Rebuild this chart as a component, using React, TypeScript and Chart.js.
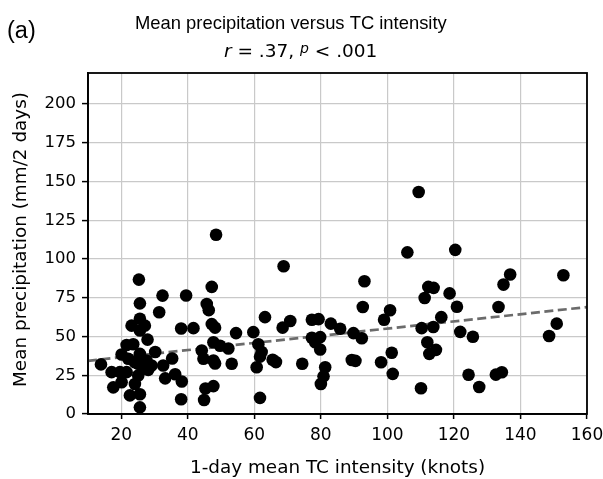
import React, { useEffect, useRef } from "react";
import { Chart, registerables } from "chart.js";

Chart.register(...registerables);

const PANEL_LABEL = "(a)";
const TITLE = "Mean precipitation versus TC intensity";
const X_LABEL = "1-day mean TC intensity (knots)";
const Y_LABEL = "Mean precipitation (mm/2 days)";

const intensity = [
  13.9, 17.1, 17.6, 19.6, 20.1, 20.1, 21.6, 21.6, 22.1, 22.6, 23.1, 23.6, 24.1, 24.1, 25.1, 25.1,
  25.3, 25.6, 25.6, 25.6, 25.6, 25.6, 25.6, 26.1, 27.1, 27.6, 27.9, 28.1, 29.1, 30.2,
  31.4, 32.4, 32.6, 33.2, 35.3, 36.2, 38.0, 38.2, 38.0, 39.5,
  41.7, 44.2, 44.7, 44.9, 45.3, 45.7, 46.3, 47.2, 47.2, 47.7, 47.7, 47.7, 48.2, 48.2, 48.5, 49.7,
  52.2, 53.2, 54.5, 59.7, 60.7, 61.2, 61.7, 62.2, 61.7, 63.2, 65.5, 66.5, 68.5, 68.8, 70.8,
  74.4, 77.3, 79.3, 77.3, 79.8, 78.3, 79.8, 81.3, 80.8, 80.0, 83.0, 85.8, 89.8, 89.3, 90.4,
  92.3, 92.6, 93.1, 98.1, 99.0,
  100.8, 101.3, 101.6, 106.0, 109.4, 110.1, 110.3, 111.2, 112.3, 113.9, 113.8, 112.0, 114.6, 112.6,
  116.2, 118.7, 120.4, 120.9, 121.9, 124.4,
  125.7, 127.6, 132.6, 134.4, 133.4, 134.9, 136.9, 148.6, 150.9, 152.9,
];
const precipitation = [
  32.0, 27.0, 17.2, 27.0, 38.4, 20.5, 44.5, 27.0, 35.6, 12.0, 57.0, 45.0, 33.4, 19.4, 32.4, 24.8,
  86.7, 71.4, 61.5, 53.9, 38.8, 12.7, 4.3, 31.3, 57.0, 34.5, 48.0, 28.5, 31.3, 40.0,
  65.6, 76.4, 31.3, 23.0, 35.8, 25.6, 55.2, 21.0, 9.5, 76.5,
  55.4, 41.0, 35.6, 9.0, 16.5, 71.0, 67.0, 82.0, 58.0, 46.3, 18.0, 34.5, 55.7, 32.6, 115.6, 44.0,
  42.3, 32.4, 52.2, 52.8, 30.2, 45.0, 37.0, 40.0, 10.4, 62.5, 35.0, 33.5, 55.7, 95.3, 60.0,
  32.4, 60.8, 61.2, 49.2, 49.6, 46.3, 41.6, 30.2, 24.3, 19.4, 58.3, 55.0, 52.2, 34.8, 34.3,
  48.9, 69.0, 85.6, 33.4, 60.8,
  66.9, 39.5, 25.9, 104.3, 143.2, 16.6, 55.4, 74.8, 82.0, 81.4, 56.1, 46.3, 41.4, 38.8,
  62.5, 77.8, 105.9, 69.2, 53.0, 25.3,
  49.8, 17.4, 25.4, 26.9, 69.0, 83.5, 90.0, 50.3, 58.3, 89.5,
];
const fitX = [10, 160];
const fitY = [34.3, 69.0];

const xTicks = [20, 40, 60, 80, 100, 120, 140, 160];
const yTicks = [0, 25, 50, 75, 100, 125, 150, 175, 200];

const textPlugin = {
  id: "texts",
  afterDraw(chart: any) {
    const { ctx, chartArea: a } = chart;
    ctx.save();
    ctx.strokeStyle = "#000";
    ctx.lineWidth = 1.8;
    ctx.strokeRect(a.left, a.top, a.right - a.left, a.bottom - a.top);
    ctx.fillStyle = "#000";
    ctx.textBaseline = "alphabetic";
    ctx.textAlign = "left";
    ctx.font = '23.5px "Liberation Sans"';
    ctx.fillText(PANEL_LABEL, 7, 38);
    ctx.font = '18.4px "Liberation Sans"';
    ctx.fillText(TITLE, 135, 29.3);
    const parts: [string, string, number][] = [
      ["r", 'italic 18.5px "DejaVu Sans"', 0],
      [" = .37, ", '18.5px "DejaVu Sans"', 0],
      ["p", 'italic 14px "DejaVu Sans"', -4],
      [" < .001", '18.5px "DejaVu Sans"', 0],
    ];
    let x = 224;
    const y2 = 56.5;
    for (const [t, f, dy] of parts) {
      ctx.font = f;
      ctx.fillText(t, x, y2 + dy);
      x += ctx.measureText(t).width;
    }
    ctx.font = '18.4px "DejaVu Sans"';
    ctx.textAlign = "center";
    ctx.fillText(X_LABEL, (a.left + a.right) / 2, 473.3);
    ctx.translate(25.5, 239.5);
    ctx.rotate(-Math.PI / 2);
    ctx.fillText(Y_LABEL, 0, 0);
    ctx.restore();
  },
};

export default function App() {
  const ref = useRef<HTMLCanvasElement>(null);
  useEffect(() => {
    document.body.style.margin = "0";
    const canvas = ref.current!;
    const points = intensity.map((v, i) => ({ x: v, y: precipitation[i] }));
    const fit = fitX.map((v, i) => ({ x: v, y: fitY[i] }));
    const chart = new Chart(canvas, {
      type: "scatter",
      data: {
        datasets: [
          {
            type: "line",
            data: fit,
            borderColor: "#6b6b6b",
            borderWidth: 2.7,
            borderDash: [9, 4.5],
            pointRadius: 0,
            fill: false,
            order: 2,
          } as any,
          {
            data: points,
            backgroundColor: "#000",
            borderWidth: 0,
            pointRadius: 6.3,
            pointHoverRadius: 6.3,
            order: 1,
          },
        ],
      },
      options: {
        responsive: false,
        animation: false,
        devicePixelRatio: 1,
        events: [],
        layout: { padding: { left: 0, right: 16, top: 73, bottom: 0 } },
        plugins: { legend: { display: false }, tooltip: { enabled: false }, title: { display: false } },
        scales: {
          x: {
            type: "linear",
            min: 10,
            max: 160,
            afterFit: (s: any) => {
              s.height = 65;
              s.paddingLeft = 0;
              s.paddingRight = 0;
            },
            afterBuildTicks: (s: any) => {
              s.ticks = xTicks.map((v) => ({ value: v }));
            },
            grid: { color: "#c9c9c9", lineWidth: 1.2, tickColor: "#000", tickLength: 5, tickWidth: 1.5 },
            border: { color: "#000", width: 1.8 },
            ticks: {
              color: "#000",
              font: { family: "DejaVu Sans", size: 17 },
              padding: 6,
              maxRotation: 0,
              autoSkip: false,
            },
          },
          y: {
            type: "linear",
            min: 0,
            max: 220,
            afterFit: (s: any) => {
              s.width = 88;
              s.paddingTop = 0;
              s.paddingBottom = 0;
            },
            afterBuildTicks: (s: any) => {
              s.ticks = yTicks.map((v) => ({ value: v }));
            },
            grid: { color: "#c9c9c9", lineWidth: 1.2, tickColor: "#000", tickLength: 6, tickWidth: 1.5 },
            border: { color: "#000", width: 1.8 },
            ticks: {
              color: "#000",
              font: { family: "DejaVu Sans", size: 16.5 },
              padding: 6,
              autoSkip: false,
            },
          },
        },
      },
      plugins: [textPlugin],
    });
    return () => chart.destroy();
  }, []);
  return <canvas ref={ref} width={603} height={479} style={{ display: "block" }} />;
}
